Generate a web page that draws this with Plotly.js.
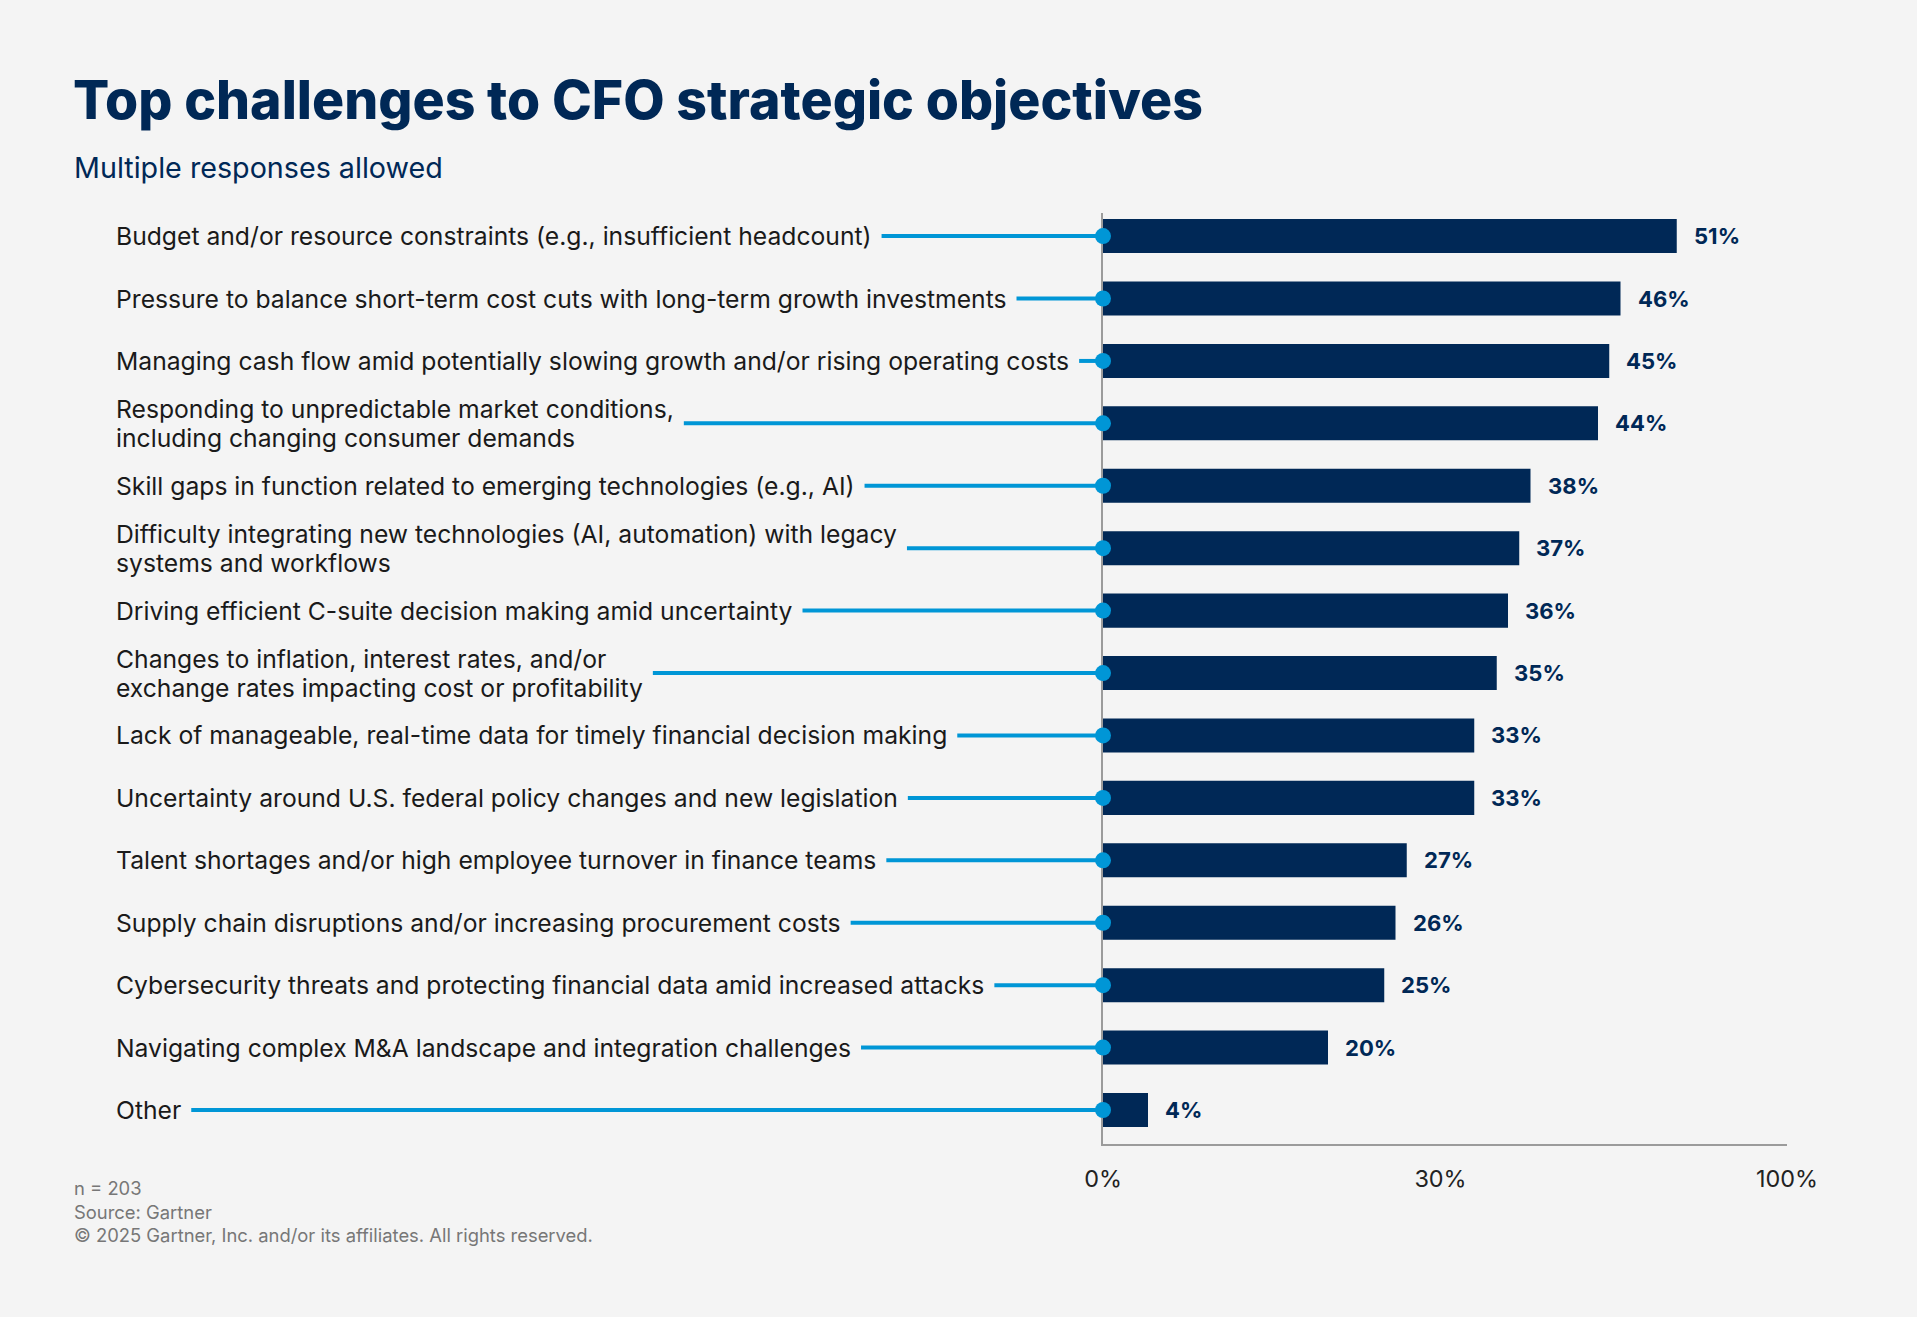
<!DOCTYPE html>
<html><head><meta charset="utf-8">
<script src="https://cdn.plot.ly/plotly-3.0.1.min.js"></script>
<style>html,body{margin:0;padding:0;background:#f4f4f4;}</style>
</head><body><div id="chart" style="width:1917px;height:1317px;"></div>
<script>
const categories = [
  "Budget and/or resource constraints (e.g., insufficient headcount)",
  "Pressure to balance short-term cost cuts with long-term growth investments",
  "Managing cash flow amid potentially slowing growth and/or rising operating costs",
  "Responding to unpredictable market conditions,\nincluding changing consumer demands",
  "Skill gaps in function related to emerging technologies (e.g., AI)",
  "Difficulty integrating new technologies (AI, automation) with legacy\nsystems and workflows",
  "Driving efficient C-suite decision making amid uncertainty",
  "Changes to inflation, interest rates, and/or\nexchange rates impacting cost or profitability",
  "Lack of manageable, real-time data for timely financial decision making",
  "Uncertainty around U.S. federal policy changes and new legislation",
  "Talent shortages and/or high employee turnover in finance teams",
  "Supply chain disruptions and/or increasing procurement costs",
  "Cybersecurity threats and protecting financial data amid increased attacks",
  "Navigating complex M&A landscape and integration challenges",
  "Other"
];
const values = [51, 46, 45, 44, 38, 37, 36, 35, 33, 33, 27, 26, 25, 20, 4];
const tickVals = [0, 30, 60.8];
const tickText = ["0%", "30%", "100%"];
const titleText = "Top challenges to CFO strategic objectives";
const subtitleText = "Multiple responses allowed";
const footerLines = ["n = 203", "Source: Gartner", "© 2025 Gartner, Inc. and/or its affiliates. All rights reserved."];

const W = 1917, H = 1317;
const L = 1103, R = 1787, T = 213, B = 1144;
const FONT = "Inter";
const LABEL_X = 114;
const NAVY = "#002856", BLUE = "#0096d6";

function draw() {
  const ctx = document.createElement("canvas").getContext("2d");
  const measure = (txt, size, weight) => { ctx.font = (weight || 400) + " " + size + "px " + FONT; return ctx.measureText(txt).width; };
  const fit = (txt, weight, target) => +(100 * target / measure(txt, 100, weight)).toFixed(1);

  const LBL_SIZE = fit(categories[0], 400, 755);
  const TITLE_SIZE = fit(titleText, 800, 1131);
  const SUB_SIZE = fit(subtitleText, 400, 369);
  const FOOT_SIZE = fit(footerLines[2], 400, 518);
  const TICK_SIZE = fit("100%", 400, 62);
  const VAL_SIZE = fit("51%", 700, 46);

  const keys = categories.map(c => c.replace(/\n/g, " "));
  const traces = [{
    type: "bar", orientation: "h", x: values, y: keys,
    marker: {color: NAVY}, hoverinfo: "skip", showlegend: false
  }];
  const annotations = [];
  categories.forEach((c, i) => {
    const lines = c.split("\n");
    lines.forEach((ln, k) => annotations.push({
      xref: "x2", yref: "y", x: LABEL_X, y: keys[i], text: ln, showarrow: false,
      xanchor: "left", yanchor: "middle", yshift: ((lines.length - 1) / 2 - k) * 29,
      font: {family: FONT, size: LBL_SIZE, color: "#1a1a1a"}
    }));
    const w = Math.max(...lines.map(ln => measure(ln, LBL_SIZE, 400)));
    traces.push({
      type: "scatter", mode: "lines", xaxis: "x2", yaxis: "y",
      x: [LABEL_X + w + 12, L], y: [keys[i], keys[i]],
      line: {color: BLUE, width: 4}, hoverinfo: "skip", showlegend: false
    });
    annotations.push({
      xref: "x", yref: "y", x: values[i], y: keys[i], text: values[i] + "%",
      showarrow: false, xanchor: "left", yanchor: "middle", xshift: 15,
      font: {family: FONT, size: VAL_SIZE, color: NAVY, weight: 700}
    });
  });
  traces.push({
    type: "scatter", mode: "markers", x: keys.map(() => 0), y: keys,
    marker: {size: 16, color: BLUE}, cliponaxis: false, hoverinfo: "skip", showlegend: false
  });
  const py = Y => (B - Y) / (B - T);
  annotations.push({
    xref: "paper", yref: "paper", x: 72 / R, y: py(167), text: subtitleText, showarrow: false,
    xanchor: "left", yanchor: "middle", font: {family: FONT, size: SUB_SIZE, color: NAVY}
  });
  [1188, 1212, 1235].forEach((Y, k) => annotations.push({
    xref: "paper", yref: "paper", x: 72 / R, y: py(Y), text: footerLines[k], showarrow: false,
    xanchor: "left", yanchor: "middle", font: {family: FONT, size: FOOT_SIZE, color: "#777777"}
  }));
  const layout = {
    width: W, height: H,
    margin: {l: 0, r: W - R, t: T, b: H - B, pad: 0},
    paper_bgcolor: "#f4f4f4", plot_bgcolor: "#f4f4f4",
    showlegend: false, bargap: 0.455,
    title: {
      text: titleText, xref: "container", yref: "container",
      x: 73 / W, xanchor: "left", y: 1 - 100 / H, yanchor: "middle",
      font: {family: FONT, size: TITLE_SIZE, color: NAVY, weight: 800}
    },
    xaxis: {
      domain: [L / R, 1], range: [0, 60.8], tickvals: tickVals, ticktext: tickText,
      showgrid: false, zeroline: false, showline: true, linecolor: "#9b9b9b", linewidth: 2,
      ticks: "", ticklabelstandoff: 13, tickfont: {family: FONT, size: TICK_SIZE, color: "#222222"},
      fixedrange: true
    },
    xaxis2: {domain: [0, L / R], range: [0, L], visible: false, anchor: "y", fixedrange: true},
    yaxis: {
      type: "category", range: [14.545, -0.37], showticklabels: false, showgrid: false,
      zeroline: false, showline: true, linecolor: "#9b9b9b", linewidth: 2, ticks: "",
      layer: "below traces", fixedrange: true
    },
    annotations: annotations
  };
  Plotly.newPlot("chart", traces, layout, {displayModeBar: false, staticPlot: true});
}
const ready = (document.fonts && document.fonts.load)
  ? Promise.all([document.fonts.load("23px Inter"), document.fonts.load("700 23px Inter"), document.fonts.load("800 23px Inter")])
  : Promise.resolve();
ready.then(draw, draw);
</script></body></html>
